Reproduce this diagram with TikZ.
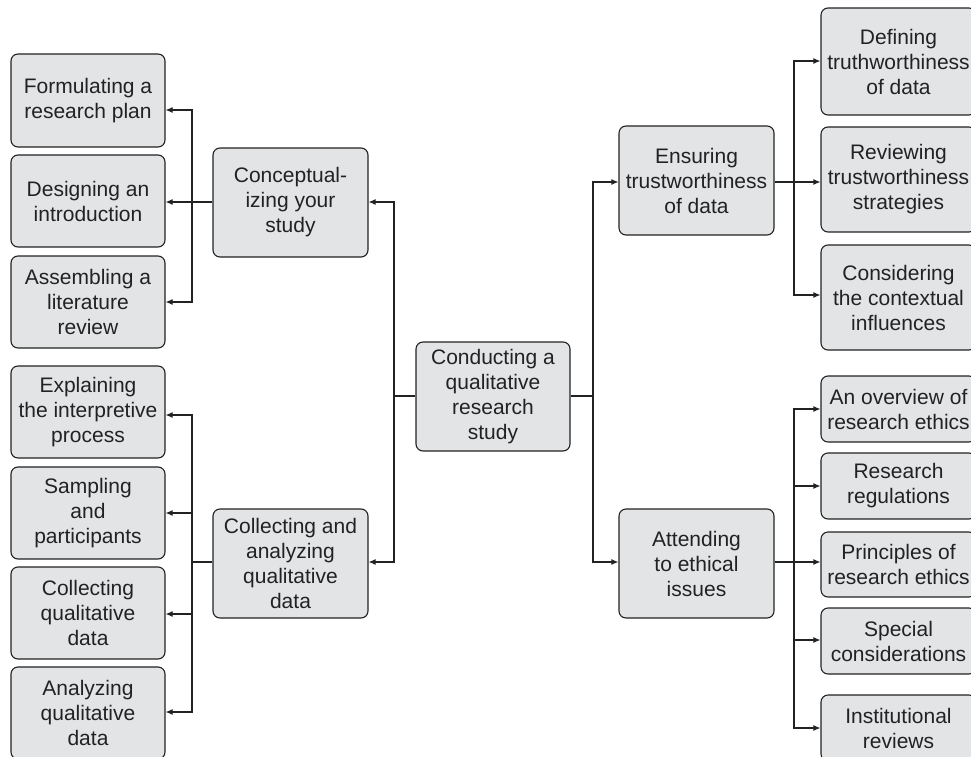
\documentclass[tikz,border=0pt]{standalone}
\usepackage{fontspec}
\setmainfont{Liberation Sans}
\usetikzlibrary{arrows.meta}
\definecolor{boxfill}{HTML}{E3E4E6}
\definecolor{ink}{HTML}{222222}
\begin{document}
\begin{tikzpicture}[x=1pt,y=-1pt,
  box/.style={draw=ink, fill=boxfill, line width=1.1pt, rounded corners=7pt,
    inner sep=0pt, align=center, text=ink,
    font=\fontsize{21}{25}\selectfont},
  leaf/.style={box, minimum width=154pt, minimum height=92pt},
  mid/.style={box, minimum width=155pt, minimum height=109pt},
  conn/.style={draw=ink, line width=1.1pt},
  arr/.style={conn, -{Latex[length=7pt,width=6pt]}}]
\useasboundingbox (0,0) rectangle (971,757);
\begin{scope}
\clip (0,0) rectangle (971,757);

% left column
\node[leaf, minimum height=93pt] (f1) at (88,100.5) {Formulating a\\research plan};
\node[leaf] (f2) at (88,201) {Designing an\\introduction};
\node[leaf] (f3) at (88,302) {Assembling a\\literature\\review};
\node[leaf] (f4) at (88,412) {Explaining\\the interpretive\\process};
\node[leaf] (f5) at (88,513) {Sampling\\and\\participants};
\node[leaf] (f6) at (88,613) {Collecting\\qualitative\\data};
\node[leaf] (f7) at (88,713) {Analyzing\\qualitative\\data};

% second level
\node[mid] (concept) at (290.5,202.5) {Conceptual-\\izing your\\study};
\node[mid] (collect) at (290.5,563.5) {Collecting and\\analyzing\\qualitative\\data};
\node[mid, minimum width=154pt] (root) at (493,396.5) {Conducting a\\qualitative\\research\\study};
\node[mid] (ensure) at (696.5,180.5) {Ensuring\\trustworthiness\\of data};
\node[mid] (attend) at (696.5,563.5) {Attending\\to ethical\\issues};

% right column
\node[leaf, minimum width=155pt, minimum height=107pt] (r1) at (898.5,61.5) {Defining\\truthworthiness\\of data};
\node[leaf, minimum width=155pt, minimum height=105pt] (r2) at (898.5,179.5) {Reviewing\\trustworthiness\\strategies};
\node[leaf, minimum width=155pt, minimum height=105pt] (r3) at (898.5,297.5) {Considering\\the contextual\\influences};
\node[leaf, minimum width=155pt, minimum height=66pt] (e1) at (898.5,409) {An overview of\\research ethics};
\node[leaf, minimum width=155pt, minimum height=66pt] (e2) at (898.5,486) {Research\\regulations};
\node[leaf, minimum width=155pt, minimum height=65pt] (e3) at (898.5,564.5) {Principles of\\research ethics};
\node[leaf, minimum width=155pt, minimum height=66pt] (e4) at (898.5,641) {Special\\considerations};
\node[leaf, minimum width=155pt, minimum height=66pt] (e5) at (898.5,728) {Institutional\\reviews};

% branch points
\coordinate (lroot) at (394,396);
\coordinate (rroot) at (593,396);
\coordinate (lbarA) at (192,202);
\coordinate (lbarB) at (192,562);
\coordinate (rbarA) at (794,182);
\coordinate (rbarB) at (794,562);

% root to second level
\draw[conn] (root.west |- lroot) -- (lroot);
\draw[arr] (lroot) |- (concept.east |- lbarA);
\draw[arr] (lroot) |- (collect.east |- lbarB);
\draw[conn] (root.east |- rroot) -- (rroot);
\draw[arr] (rroot) |- (ensure.west |- rbarA);
\draw[arr] (rroot) |- (attend.west |- rbarB);

% conceptualizing branch
\draw[arr] (concept.west |- lbarA) -- (f2.east |- lbarA);
\draw[arr] (lbarA) |- ([yshift=-9.5pt]f1.east);
\draw[arr] (lbarA) |- (f3.east);

% collecting branch
\draw[conn] (collect.west |- lbarB) -- (lbarB);
\draw[arr] (lbarB) |- ([yshift=-3pt]f4.east);
\draw[arr] (lbarB) |- (f5.east);
\draw[arr] (lbarB) |- ([yshift=-1pt]f6.east);
\draw[arr] (lbarB) |- ([yshift=1pt]f7.east);

% trustworthiness branch
\draw[arr] (ensure.east |- rbarA) -- (r2.west |- rbarA);
\draw[arr] (rbarA) |- ([yshift=0.5pt]r1.west);
\draw[arr] (rbarA) |- ([yshift=2.5pt]r3.west);

% ethics branch
\draw[arr] (attend.east |- rbarB) -- (e3.west |- rbarB);
\draw[arr] (rbarB) |- (e1.west);
\draw[arr] (rbarB) |- (e2.west);
\draw[arr] (rbarB) |- ([yshift=1pt]e4.west);
\draw[arr] (rbarB) |- (e5.west);
\end{scope}
\end{tikzpicture}
\end{document}
